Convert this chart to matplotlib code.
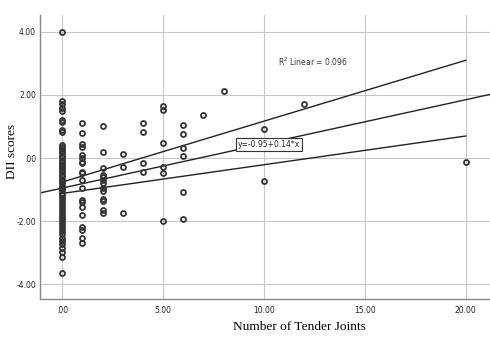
import matplotlib
matplotlib.use('Agg')
from matplotlib import pyplot as plt

# DII scores grouped by number of tender joints
dii_0 = [3.98, 1.80, 1.71, 1.58, 1.49, 1.20, 1.14, 0.89, 0.82,
         0.41, 0.35, 0.28, 0.22, 0.15, 0.08, 0.02, -0.05, -0.12, -0.18,
         -0.25, -0.31, -0.38, -0.45, -0.52, -0.58, -0.66, -0.72, -0.80,
         -0.87, -0.95, -1.02, -1.10, -1.18, -1.27, -1.36, -1.45, -1.55,
         -1.64, -1.74, -1.83, -1.93, -2.03, -2.12, -2.22, -2.32, -2.42,
         -2.52, -2.62, -2.72, -2.84, -2.98, -3.12, -3.64]
dii_1 = [1.11, 0.79, 0.44, 0.35, 0.09, 0.0, -0.13, -0.16, -0.44, -0.47,
         -0.70, -0.95, -1.33, -1.39, -1.55, -1.80, -2.18, -2.28, -2.53, -2.69]
dii_2 = [1.01, 0.19, -0.32, -0.54, -0.60, -0.70, -0.79, -0.95, -1.04,
         -1.30, -1.36, -1.65, -1.74]
dii_3 = [0.13, -0.28, -1.74]
dii_4 = [1.11, 0.82, -0.16, -0.44]
dii_5 = [1.65, 1.52, 0.47, -0.28, -0.47, -1.99]
dii_6 = [1.04, 0.76, 0.32, 0.06, -1.08, -1.93]
dii_7 = [1.36]
dii_8 = [2.12]
dii_10 = [0.93, -0.73]
dii_12 = [1.71]
dii_20 = [-0.13]

groups = {0: dii_0, 1: dii_1, 2: dii_2, 3: dii_3, 4: dii_4, 5: dii_5,
          6: dii_6, 7: dii_7, 8: dii_8, 10: dii_10, 12: dii_12, 20: dii_20}

# fit y = -0.95 + 0.14x, with 95% CI of the mean
intercept, slope = -0.95, 0.14
ci_x = [0, 20]
ci_upper = [-0.76, 3.10]
ci_lower = [-1.12, 0.70]

xticks = [0, 5, 10, 15, 20]
xticklabels = ['.00', '5.00', '10.00', '15.00', '20.00']
yticks = [-4, -2, 0, 2, 4]
yticklabels = ['-4.00', '-2.00', '.00', '2.00', '4.00']

fig = plt.figure(figsize=(4.9, 3.52), dpi=100)
ax = fig.add_axes([0.082, 0.151, 0.918, 0.806])

xs, ys = [], []
for k, v in groups.items():
    xs += [k] * len(v)
    ys += v
ax.plot(xs, ys, 'o', ms=3.6, mfc='none', mec='#333333', mew=1.3, zorder=3)

xlim = (-1.09, 21.2)
ax.plot(xlim, [intercept + slope * x for x in xlim], color='#222222', lw=1)
ax.plot(ci_x, ci_upper, color='#222222', lw=1)
ax.plot(ci_x, ci_lower, color='#222222', lw=1)

ax.set_xlim(*xlim)
ax.set_ylim(-4.46, 4.53)
ax.set_xticks(xticks)
ax.set_xticklabels(xticklabels)
ax.set_yticks(yticks)
ax.set_yticklabels(yticklabels)
ax.tick_params(axis='x', length=0, labelsize=5.5, pad=5, colors='#222222')
ax.tick_params(axis='y', length=0, labelsize=5.5, pad=3, colors='#222222')
ax.grid(True, color='#c8c8c8', lw=0.8)
ax.set_axisbelow(True)
for s in ['top', 'right']:
    ax.spines[s].set_visible(False)
for s in ['left', 'bottom']:
    ax.spines[s].set_color('#888888')
    ax.spines[s].set_linewidth(1)

ax.text(10.7, 2.92, 'R$^2$ Linear = 0.096', fontsize=5.5, color='#333333')
ax.text(8.7, 0.43, 'y=-0.95+0.14*x', fontsize=5.5, color='#222222',
        va='center', bbox=dict(boxstyle='square,pad=0.25', fc='white',
                               ec='#333333', lw=0.8))

ax.set_xlabel('Number of Tender Joints', family='Liberation Serif',
              fontsize=9.6)
ax.xaxis.set_label_coords(0.576, -0.078)
ax.set_ylabel('DII scores', family='Liberation Serif', fontsize=9.6)
ax.yaxis.set_label_coords(-0.05, 0.52)

fig.savefig('out.png', dpi=100)
